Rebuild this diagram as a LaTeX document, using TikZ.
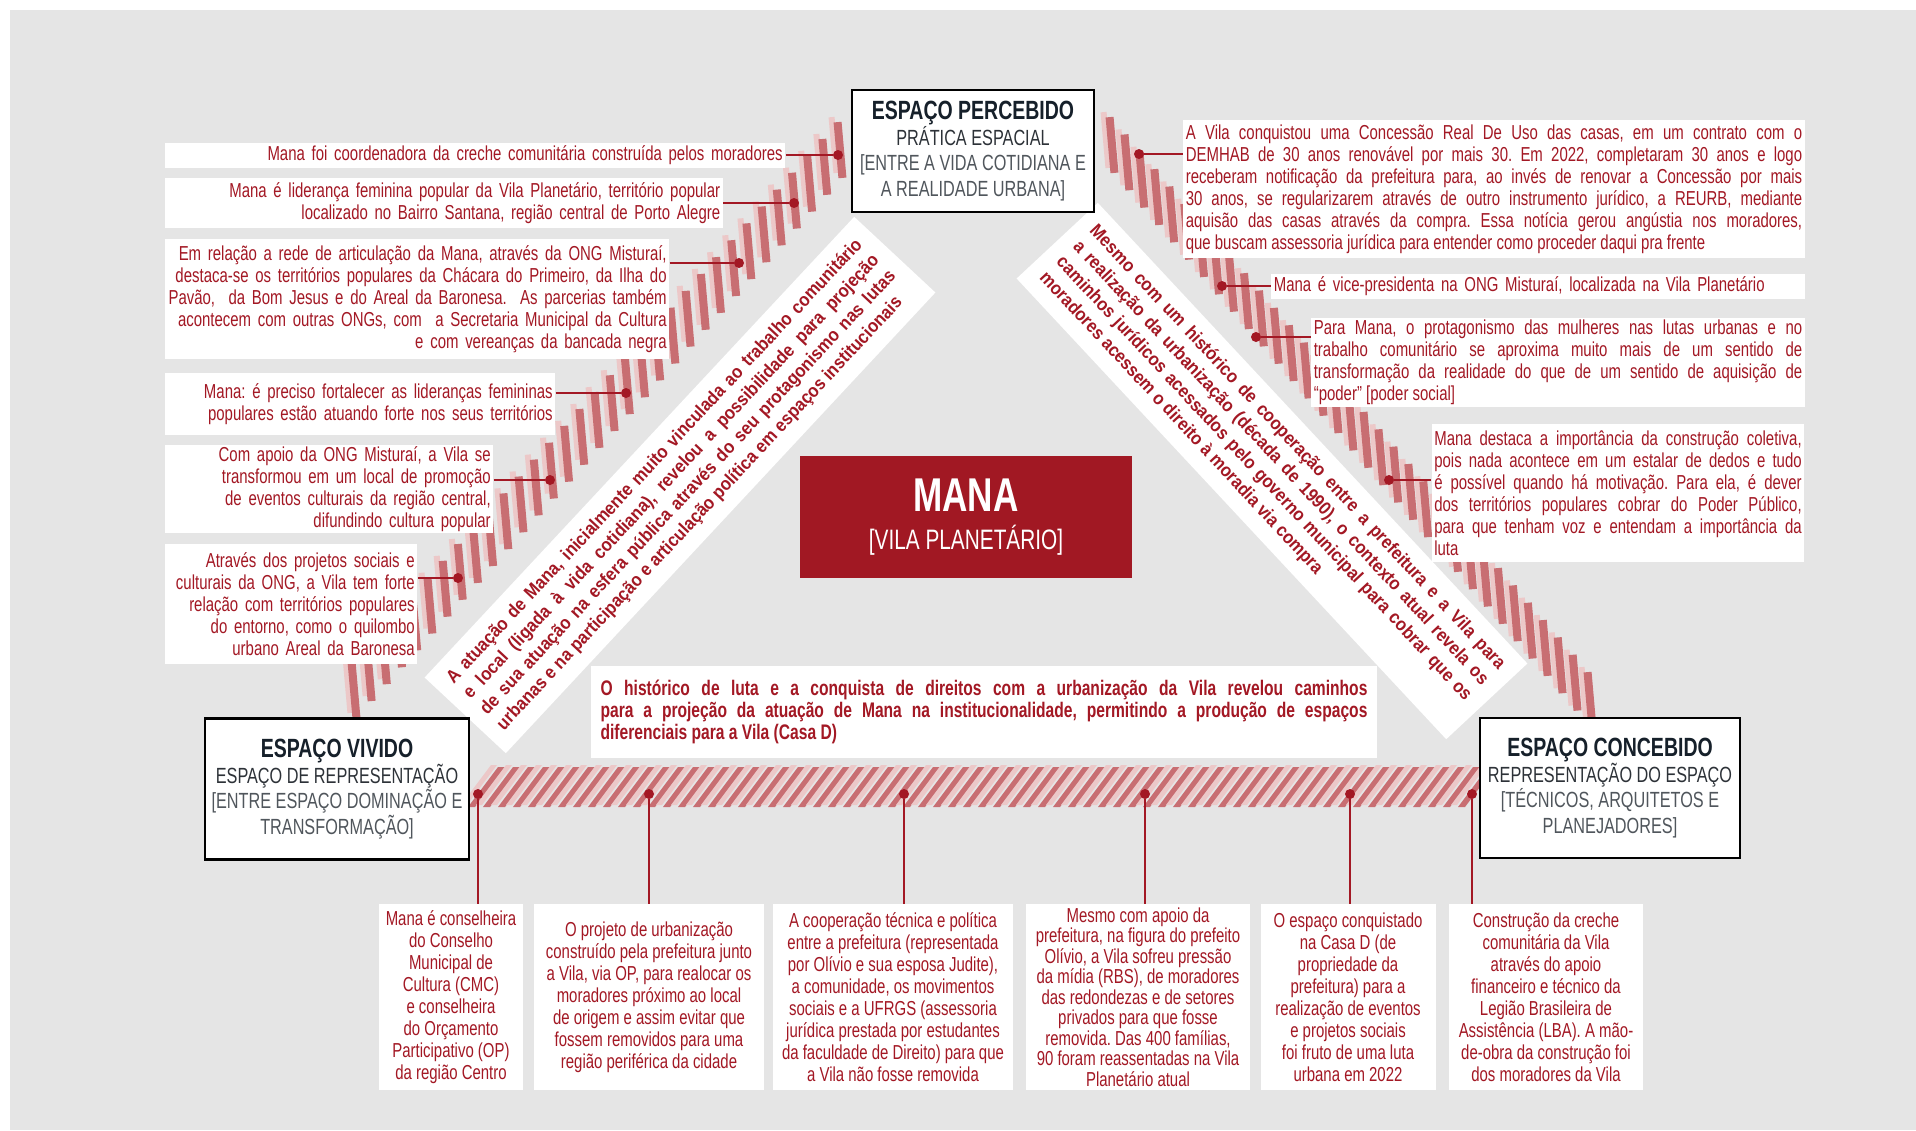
\documentclass[tikz,border=0pt]{standalone}
\usepackage{fontspec}
\setmainfont{Liberation Sans}[FakeStretch=0.74]
\newfontfamily\bandfont{Liberation Sans}[FakeStretch=0.9]
\usetikzlibrary{calc}

\definecolor{manared}{RGB}{163,24,36}
\definecolor{boxred}{RGB}{161,24,35}
\definecolor{bggray}{RGB}{229,229,229}
\definecolor{stripedark}{RGB}{200,110,114}
\definecolor{stripelight}{RGB}{236,200,200}
\definecolor{headink}{RGB}{22,32,42}
\definecolor{subink}{RGB}{45,50,56}
\definecolor{brkink}{RGB}{80,86,92}

\newcommand{\spchead}{\color{headink}\bfseries\fontsize{15}{14.5}\selectfont}
\newcommand{\spcsub}{\color{subink}\fontsize{12.5}{14.5}\selectfont}
\newcommand{\spcbrk}{\color{brkink}\fontsize{12.5}{14.5}\selectfont}

\begin{document}
\frenchspacing
\begin{tikzpicture}[x=0.02cm,y=-0.02cm,
  note/.style={fill=white,text=manared,inner xsep=1.5pt,inner ysep=0pt,font=\fontsize{11.5}{12.5}\selectfont},
  lnote/.style={note,align=right},
  rnote/.style={note,align=justify},
  cnote/.style={note,align=center,minimum height=3.72cm},
  space/.style={draw=black,line width=1.2pt,fill=white,align=center,inner sep=0pt,font=\fontsize{12.5}{14.5}\selectfont},
  band/.style={fill=white,text=manared,align=justify,inner sep=0pt,minimum width=12.6cm,minimum height=2.22cm,text width=12cm,font=\bandfont\bfseries\fontsize{10.5}{13}\selectfont},
  dot/.style={circle,fill=manared,inner sep=0pt,minimum size=0.2cm},
  link/.style={manared,line width=1.1pt}]

  \useasboundingbox (0,0) rectangle (1916,1130);
  \fill[white] (0,0) rectangle (1916,1130);
  \fill[bggray] (10,10) rectangle (1916,1130);

  %% Hatched sides of the triangle
  \foreach \i in {0,...,32}
  {
    \pgfmathsetmacro{\hx}{354+486/32*\i}
    \pgfmathsetmacro{\hy}{690-540/32*\i}
    \fill[stripelight,rotate around={5:(\hx-6,\hy-5)}] (\hx-9,\hy-33) rectangle (\hx-3,\hy+23);
    \fill[stripedark,rotate around={5:(\hx,\hy)}] (\hx-4,\hy-28) rectangle (\hx+4,\hy+28);
  }
  \foreach \i in {0,...,32}
  {
    \pgfmathsetmacro{\hx}{1112+478/32*\i}
    \pgfmathsetmacro{\hy}{145+555/32*\i}
    \fill[stripelight,rotate around={5:(\hx-6,\hy-5)}] (\hx-9,\hy-33) rectangle (\hx-3,\hy+23);
    \fill[stripedark,rotate around={5:(\hx,\hy)}] (\hx-4,\hy-28) rectangle (\hx+4,\hy+28);
  }
  \foreach \i in {0,...,66}
  {
    \pgfmathsetmacro{\hx}{468+15*\i}
    \fill[stripelight] (\hx-7,805) -- (\hx-1,805) -- (\hx+29,765) -- (\hx+23,765) -- cycle;
    \fill[stripedark] (\hx,807) -- (\hx+7,807) -- (\hx+37,767) -- (\hx+30,767) -- cycle;
  }

  %% Diagonal bands
  \node[band,rotate=47] (LBAND) at (680,485) {A atuação de Mana, inicialmente muito vinculada ao trabalho comunitário\linebreak
    e local (ligada à vida cotidiana), revelou a possibilidade para projeção\linebreak
    de sua atuação na esfera pública através do seu protagonismo nas lutas\linebreak
    urbanas e na participação e articulação política em espaços institucionais};
  \node[band,rotate=-47] (RBAND) at (1272,471) {Mesmo com um histórico de cooperação entre a prefeitura e a Vila para\linebreak
    a realização da urbanização (década de 1990), o contexto atual revela os\linebreak
    caminhos jurídicos acessados pelo governo municipal para cobrar que os\linebreak
    moradores acessem o direito à moradia via compra};

  %% Centre and base text
  \node[fill=boxred,text=white,align=center,inner sep=0pt,minimum width=6.66cm,minimum height=2.44cm,
    font=\fontsize{16}{21}\selectfont] (MANA) at (966,517)
    {{\bfseries\fontsize{27}{21}\selectfont MANA}\\[1pt][VILA PLANETÁRIO]};
  \node[fill=white,text=manared,align=justify,inner sep=0pt,minimum width=15.74cm,minimum height=1.84cm,
    text width=15.34cm,font=\bfseries\fontsize{12}{12.5}\selectfont] (BASE) at (984,712)
    {O histórico de luta e a conquista de direitos com a urbanização da Vila revelou caminhos\linebreak
    para a projeção da atuação de Mana na institucionalidade, permitindo a produção de espaços\linebreak
    diferenciais para a Vila (Casa D)};

  %% The three spaces
  \node[space,minimum width=4.84cm,minimum height=2.44cm] (PERC) at (973,151)
    {{\spchead ESPAÇO PERCEBIDO}\\{\spcsub PRÁTICA ESPACIAL}\\{\spcbrk [ENTRE A VIDA COTIDIANA E}\\{\spcbrk A REALIDADE URBANA]}};
  \node[space,minimum width=5.28cm,minimum height=2.82cm] (VIVI) at (337,789)
    {{\spchead ESPAÇO VIVIDO}\\{\spcsub ESPAÇO DE REPRESENTAÇÃO}\\{\spcbrk [ENTRE ESPAÇO DOMINAÇÃO E}\\{\spcbrk TRANSFORMAÇÃO]}};
  \node[space,minimum width=5.2cm,minimum height=2.8cm] (CONC) at (1610,788)
    {{\spchead ESPAÇO CONCEBIDO}\\{\spcsub REPRESENTAÇÃO DO ESPAÇO}\\{\spcbrk [TÉCNICOS, ARQUITETOS E}\\{\spcbrk PLANEJADORES]}};

  %% Notes on the left side
  \node[lnote,text width=12.31cm,minimum height=0.5cm] (B1) at (475,155)
    {Mana foi coordenadora da creche comunitária construída pelos moradores};
  \node[lnote,text width=11.05cm,minimum height=1cm] (B2) at (444,203)
    {Mana é liderança feminina popular da Vila Planetário, território popular\\
    localizado no Bairro Santana, região central de Porto Alegre};
  \node[lnote,text width=9.99cm,minimum height=2.4cm] (B3) at (417,299)
    {Em relação a rede de articulação da Mana, através da ONG Misturaí,\\
    destaca-se os territórios populares da Chácara do Primeiro, da Ilha do\\
    Pavão,\ \ da Bom Jesus e do Areal da Baronesa.\ \ As parcerias também\\
    acontecem com outras ONGs, com\ \ a Secretaria Municipal da Cultura\\
    e com vereanças da bancada negra};
  \node[lnote,text width=7.71cm,minimum height=1.24cm] (B4) at (360,404)
    {Mana: é preciso fortalecer as lideranças femininas\\
    populares estão atuando forte nos seus territórios};
  \node[lnote,text width=6.47cm,minimum height=1.76cm] (B5) at (329,489)
    {Com apoio da ONG Misturaí, a Vila se\\
    transformou em um local de promoção\\
    de eventos culturais da região central,\\
    difundindo cultura popular};
  \node[lnote,text width=4.95cm,minimum height=2.4cm] (B6) at (291,604)
    {Através dos projetos sociais e\\
    culturais da ONG, a Vila tem forte\\
    relação com territórios populares\\
    do entorno, como o quilombo\\
    urbano Areal da Baronesa};

  %% Notes on the right side
  \node[rnote,text width=12.33cm,minimum height=2.78cm] (R1) at (1494,189)
    {A Vila conquistou uma Concessão Real De Uso das casas, em um contrato com o\linebreak
    DEMHAB de 30 anos renovável por mais 30. Em 2022, completaram 30 anos e logo\linebreak
    receberam notificação da prefeitura para, ao invés de renovar a Concessão por mais\linebreak
    30 anos, se regularizarem através de outro instrumento jurídico, a REURB, mediante\linebreak
    aquisão das casas através da compra. Essa notícia gerou angústia nos moradores,\linebreak
    que buscam assessoria jurídica para entender como proceder daqui pra frente};
  \node[note,align=left,text width=10.57cm,minimum height=0.5cm] (R2) at (1538,286)
    {Mana é vice-presidenta na ONG Misturaí, localizada na Vila Planetário};
  \node[rnote,text width=9.77cm,minimum height=1.78cm] (R3) at (1558,362)
    {Para Mana, o protagonismo das mulheres nas lutas urbanas e no\linebreak
    trabalho comunitário se aproxima muito mais de um sentido de\linebreak
    transformação da realidade do que de um sentido de aquisição de\linebreak
    “poder” [poder social]};
  \node[rnote,text width=7.35cm,minimum height=2.76cm] (R4) at (1618,493)
    {Mana destaca a importância da construção coletiva,\linebreak
    pois nada acontece em um estalar de dedos e tudo\linebreak
    é possível quando há motivação. Para ela, é dever\linebreak
    dos territórios populares cobrar do Poder Público,\linebreak
    para que tenham voz e entendam a importância da\linebreak
    luta};

  %% Notes along the base
  \node[cnote,minimum width=2.88cm] (C1) at (451,997)
    {Mana é conselheira\\ do Conselho\\ Municipal de\\ Cultura (CMC)\\ e conselheira\\ do Orçamento\\ Participativo (OP)\\ da região Centro};
  \node[cnote,minimum width=4.6cm] (C2) at (649,997)
    {O projeto de urbanização\\ construído pela prefeitura junto\\ a Vila, via OP, para realocar os\\ moradores próximo ao local\\ de origem e assim evitar que\\ fossem removidos para uma\\ região periférica da cidade};
  \node[cnote,minimum width=4.8cm] (C3) at (893,997)
    {A cooperação técnica e política\\ entre a prefeitura (representada\\ por Olívio e sua esposa Judite),\\ a comunidade, os movimentos\\ sociais e a UFRGS (assessoria\\ jurídica prestada por estudantes\\ da faculdade de Direito) para que\\ a Vila não fosse removida};
  \node[cnote,minimum width=4.5cm,font=\fontsize{11.5}{11.7}\selectfont] (C4) at (1138,997)
    {Mesmo com apoio da\\ prefeitura, na figura do prefeito\\ Olívio, a Vila sofreu pressão\\ da mídia (RBS), de moradores\\ das redondezas e de setores\\ privados para que fosse\\ removida. Das 400 famílias,\\ 90 foram reassentadas na Vila\\ Planetário atual};
  \node[cnote,minimum width=3.5cm] (C5) at (1348,997)
    {O espaço conquistado\\ na Casa D (de\\ propriedade da\\ prefeitura) para a\\ realização de eventos\\ e projetos sociais\\ foi fruto de uma luta\\ urbana em 2022};
  \node[cnote,minimum width=3.88cm] (C6) at (1546,997)
    {Construção da creche\\ comunitária da Vila\\ através do apoio\\ financeiro e técnico da\\ Legião Brasileira de\\ Assistência (LBA). A mão-\\ de-obra da construção foi\\ dos moradores da Vila};

  %% Dots on the hatches
  \node[dot] (L1) at (838,155) {};
  \node[dot] (L2) at (794,203) {};
  \node[dot] (L3) at (739,263) {};
  \node[dot] (L4) at (626,393) {};
  \node[dot] (L5) at (550,480) {};
  \node[dot] (L6) at (458,578) {};
  \node[dot] (P1) at (1139,154) {};
  \node[dot] (P2) at (1222,286) {};
  \node[dot] (P3) at (1256,337) {};
  \node[dot] (P4) at (1389,480) {};
  \foreach \n/\x in {1/478,2/649,3/904,4/1145,5/1350,6/1472}
    \node[dot] (D\n) at (\x,794) {};

  %% Connectors
  \foreach \n in {1,...,6}
    \draw[link] (L\n -| B\n.east) -- (L\n);
  \foreach \n in {1,...,4}
    \draw[link] (P\n) -- (P\n -| R\n.west);
  \foreach \n in {1,...,6}
    \draw[link] (D\n) -- (D\n |- C\n.north);

\end{tikzpicture}
\end{document}
